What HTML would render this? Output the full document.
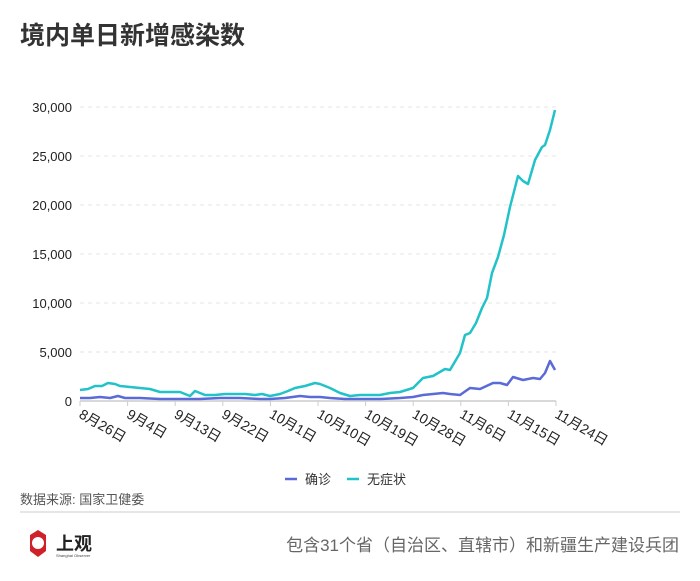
<!DOCTYPE html>
<html><head><meta charset="utf-8"><style>
body{margin:0;background:#fff;width:700px;height:576px;overflow:hidden;font-family:"Liberation Sans","Noto Sans CJK SC",sans-serif;}
</style></head><body>
<svg width="700" height="576" xmlns="http://www.w3.org/2000/svg" font-family="Liberation Sans, Noto Sans CJK SC, sans-serif">
<text x="20" y="44" font-size="25" font-weight="bold" fill="#333">境内单日新增感染数</text>
<g stroke="#e6e6e6" stroke-dasharray="4,4" stroke-width="1">
<line x1="80" x2="556" y1="107" y2="107"/><line x1="80" x2="556" y1="156" y2="156"/><line x1="80" x2="556" y1="205" y2="205"/><line x1="80" x2="556" y1="254" y2="254"/><line x1="80" x2="556" y1="303" y2="303"/><line x1="80" x2="556" y1="352" y2="352"/>
</g>
<line x1="80" x2="556" y1="401" y2="401" stroke="#ccc" stroke-width="1.5"/>
<g stroke="#ccc"><line x1="80" x2="80" y1="401" y2="406"/><line x1="127.6" x2="127.6" y1="401" y2="406"/><line x1="175.2" x2="175.2" y1="401" y2="406"/><line x1="222.8" x2="222.8" y1="401" y2="406"/><line x1="270.4" x2="270.4" y1="401" y2="406"/><line x1="318" x2="318" y1="401" y2="406"/><line x1="365.6" x2="365.6" y1="401" y2="406"/><line x1="413.2" x2="413.2" y1="401" y2="406"/><line x1="460.8" x2="460.8" y1="401" y2="406"/><line x1="508.4" x2="508.4" y1="401" y2="406"/><line x1="556" x2="556" y1="401" y2="406"/></g>
<g font-size="13" fill="#222" text-anchor="end">
<text x="72" y="112">30,000</text><text x="72" y="161">25,000</text><text x="72" y="210">20,000</text><text x="72" y="259">15,000</text><text x="72" y="308">10,000</text><text x="72" y="357">5,000</text><text x="72" y="406">0</text>
</g>
<g font-size="14" fill="#222">
<text transform="translate(78,417) rotate(30)">8月26日</text>
<text transform="translate(125.6,417) rotate(30)">9月4日</text>
<text transform="translate(173.2,417) rotate(30)">9月13日</text>
<text transform="translate(220.8,417) rotate(30)">9月22日</text>
<text transform="translate(268.4,417) rotate(30)">10月1日</text>
<text transform="translate(316,417) rotate(30)">10月10日</text>
<text transform="translate(363.6,417) rotate(30)">10月19日</text>
<text transform="translate(411.2,417) rotate(30)">10月28日</text>
<text transform="translate(458.8,417) rotate(30)">11月6日</text>
<text transform="translate(506.4,417) rotate(30)">11月15日</text>
<text transform="translate(554,417) rotate(30)">11月24日</text>
</g>
<polyline fill="none" stroke="#21c2c8" stroke-width="2.5" stroke-linejoin="round" points="80,390 88,389 95,386 102,386 108,383 115,384 120,386 130,387 140,388 150,389 160,392 170,392 180,392 190,396 195,391 205,395 215,395 225,394 235,394 245,394 255,395 262,394 270,396 280,394 288,391 295,388 305,386 315,383 320,384 330,388 340,393 350,396 360,395 370,395 380,395 390,393 400,392 413,388 423,378 433,376 445,369 450,370 460,353 465,335 470,333 476,323 482,308 487,298 492,273 498,257 504,235 510,207 518,176 523,181 528,184 535,160 542,147 545,145 550,130 555,110"/>
<polyline fill="none" stroke="#5a6ad6" stroke-width="2.5" stroke-linejoin="round" points="80,398 90,398 100,397 110,398 118,396 125,398 140,398 160,399 180,399 200,399 220,398 240,398 260,399 270,399 285,398 300,396 310,397 320,397 330,398 345,399 360,399 380,399 400,398 413,397 423,395 433,394 443,393 450,394 460,395 470,388 480,389 493,383 500,383 507,385 513,377 523,380 533,378 540,379 545,373 550,361 555,370"/>
<line x1="285" x2="297" y1="479" y2="479" stroke="#5a6ad6" stroke-width="2.5"/>
<text x="305" y="484" font-size="13" fill="#333">确诊</text>
<line x1="347" x2="359" y1="479" y2="479" stroke="#21c2c8" stroke-width="2.5"/>
<text x="367" y="484" font-size="13" fill="#333">无症状</text>
<text x="20" y="504" font-size="13" fill="#555">数据来源: 国家卫健委</text>
<line x1="20" x2="680" y1="512" y2="512" stroke="#ddd" stroke-width="1.5"/>
<polygon points="30,535 38,530 46,535 46,551 38,557 30,551" fill="#d0202a"/>
<circle cx="38" cy="543" r="6" fill="#fff"/>
<text x="56" y="550" font-size="18" fill="#222" font-weight="bold">上观</text>
<text x="56" y="557" font-size="4" fill="#444">Shanghai Observer</text>
<text x="679" y="551" font-size="17" fill="#666" text-anchor="end">包含31个省（自治区、直辖市）和新疆生产建设兵团</text>
</svg>
</body></html>
